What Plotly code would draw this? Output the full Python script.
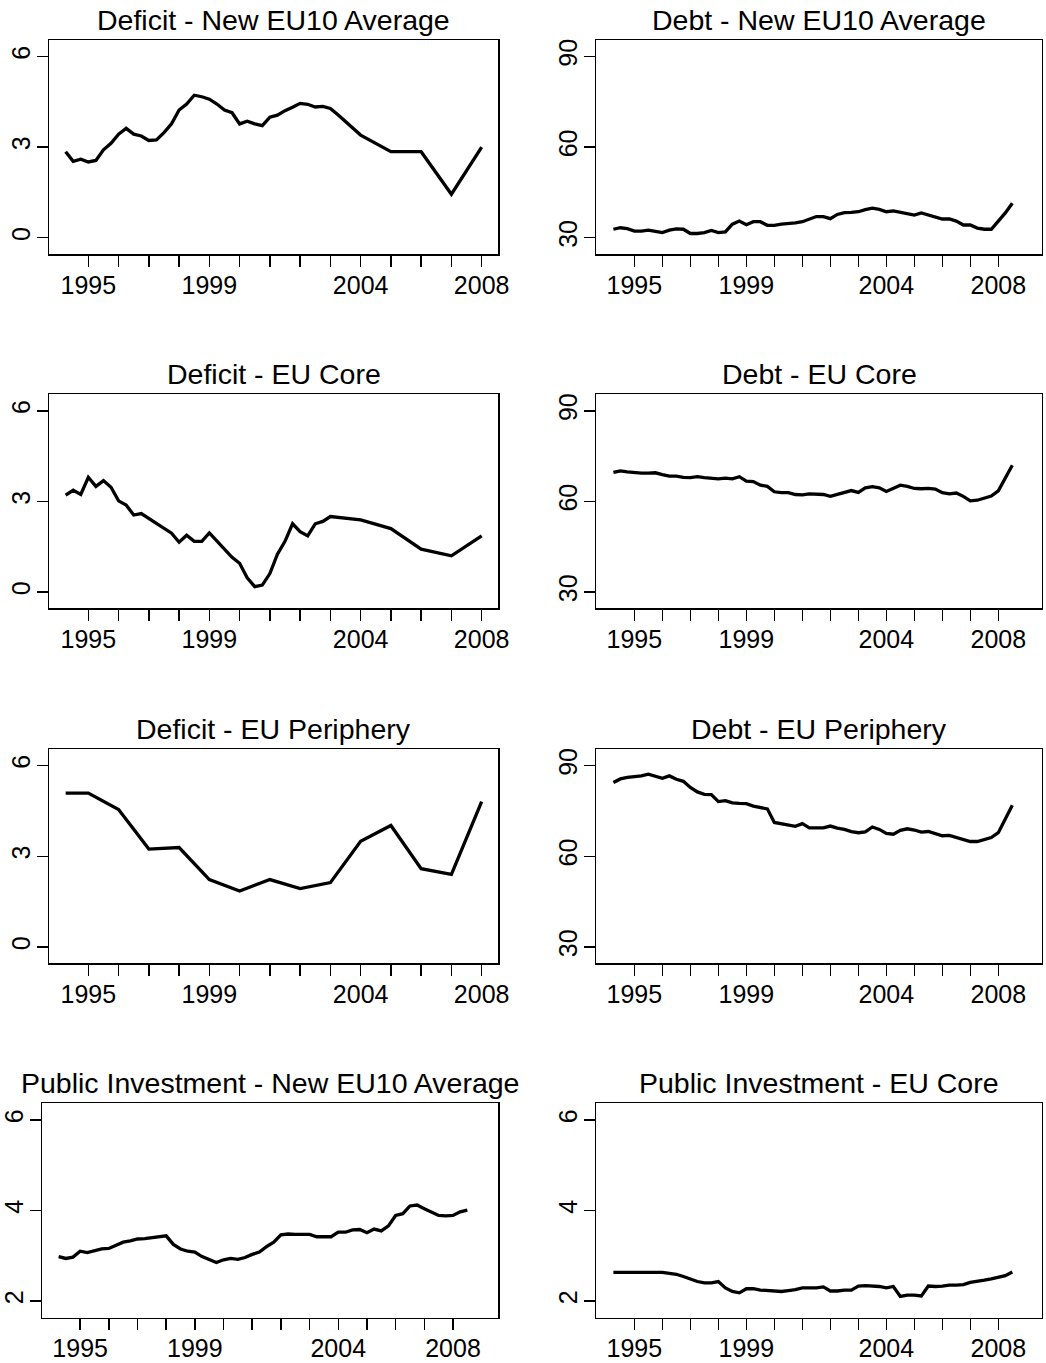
import plotly.graph_objects as go

W, H = 1046, 1363
FONT = "Liberation Sans"

# ---------------- data ----------------
# quarterly time index 1994Q2 .. 2008Q3 (as decimal years)
quarters = [1994.25 + 0.25 * i for i in range(58)]
quarters_to_2003 = quarters[:36]

deficit_eu10_x = quarters_to_2003 + [2003.25, 2003.5, 2003.75, 2004, 2005, 2006, 2007, 2008]
deficit_eu10_y = [2.85, 2.53, 2.60, 2.51, 2.56, 2.91, 3.13, 3.43, 3.62, 3.43,
                  3.37, 3.22, 3.24, 3.48, 3.77, 4.23, 4.43, 4.72, 4.67, 4.59,
                  4.43, 4.23, 4.14, 3.77, 3.86, 3.77, 3.71, 3.99, 4.06, 4.21,
                  4.32, 4.45, 4.42, 4.33, 4.35, 4.28,
                  4.07, 3.85, 3.62, 3.40, 2.85, 2.85, 1.44, 3.00]

deficit_core_x = quarters_to_2003 + [2004, 2005, 2006, 2007, 2008]
deficit_core_y = [3.21, 3.37, 3.23, 3.80, 3.50, 3.69, 3.47, 3.02, 2.88, 2.55,
                  2.60, 2.43, 2.27, 2.12, 1.95, 1.65, 1.88, 1.68, 1.68, 1.96,
                  1.68, 1.42, 1.15, 0.95, 0.47, 0.18, 0.23, 0.61, 1.25, 1.68,
                  2.26, 2.00, 1.86, 2.26, 2.34, 2.50,
                  2.39, 2.10, 1.42, 1.20, 1.86]

deficit_periph_x = [1994.25, 1995, 1996, 1997, 1998, 1999, 2000, 2001, 2002,
                    2003, 2004, 2005, 2006, 2007, 2008]
deficit_periph_y = [5.09, 5.09, 4.55, 3.24, 3.29, 2.23, 1.85, 2.23, 1.93,
                    2.13, 3.50, 4.02, 2.59, 2.40, 4.81]

debt_eu10_y = [32.8, 33.3, 33.0, 32.2, 32.2, 32.5, 32.1, 31.7, 32.5, 32.9,
               32.8, 31.4, 31.4, 31.7, 32.4, 31.7, 31.9, 34.5, 35.5, 34.3,
               35.3, 35.3, 34.1, 34.1, 34.5, 34.6, 34.9, 35.3, 36.1, 37.0,
               37.0, 36.3, 37.7, 38.3, 38.4, 38.6, 39.3, 39.8, 39.4, 38.6,
               38.9, 38.5, 38.0, 37.5, 38.2, 37.5, 36.9, 36.2, 36.2, 35.5,
               34.2, 34.2, 33.2, 32.8, 32.8, 35.3, 38.2, 41.4]

debt_core_y = [69.6, 70.1, 69.8, 69.5, 69.4, 69.4, 69.5, 68.9, 68.4, 68.4,
               68.0, 67.9, 68.2, 67.9, 67.7, 67.5, 67.7, 67.5, 68.2, 66.7,
               66.6, 65.4, 65.0, 63.2, 62.9, 62.9, 62.3, 62.2, 62.5, 62.3,
               62.3, 61.7, 62.3, 63.1, 63.6, 63.0, 64.5, 64.9, 64.5, 63.3,
               64.3, 65.4, 65.0, 64.3, 64.2, 64.3, 64.1, 62.9, 62.5, 62.8,
               61.7, 60.2, 60.4, 61.0, 61.8, 63.5, 67.5, 72.0]

debt_periph_y = [84.4, 85.6, 86.1, 86.4, 86.6, 87.2, 86.6, 85.8, 86.6, 85.5,
                 84.8, 82.8, 81.3, 80.5, 80.4, 78.1, 78.4, 77.7, 77.5, 77.4,
                 76.6, 76.1, 75.7, 71.2, 70.7, 70.3, 69.9, 70.8, 69.4, 69.4,
                 69.4, 70.0, 69.3, 68.9, 68.2, 67.8, 68.1, 69.7, 68.9, 67.6,
                 67.3, 68.6, 69.1, 68.7, 68.0, 68.2, 67.6, 66.8, 66.9, 66.2,
                 65.5, 64.9, 64.9, 65.5, 66.2, 67.8, 72.2, 76.9]

pubinv_eu10_y = [2.98, 2.94, 2.97, 3.10, 3.07, 3.11, 3.15, 3.16, 3.23, 3.30,
                 3.33, 3.37, 3.38, 3.40, 3.41, 3.44, 3.25, 3.15, 3.10, 3.08,
                 2.98, 2.91, 2.85, 2.91, 2.94, 2.92, 2.96, 3.03, 3.08, 3.20,
                 3.30, 3.46, 3.48, 3.47, 3.47, 3.47, 3.42, 3.42, 3.42, 3.52,
                 3.52, 3.57, 3.58, 3.51, 3.59, 3.55, 3.66, 3.89, 3.93, 4.10,
                 4.12, 4.04, 3.96, 3.89, 3.88, 3.89, 3.97, 4.01]

pubinv_core_y = [2.63, 2.63, 2.63, 2.63, 2.63, 2.63, 2.63, 2.63, 2.61, 2.59,
                 2.54, 2.48, 2.43, 2.40, 2.40, 2.43, 2.29, 2.21, 2.18, 2.27,
                 2.27, 2.24, 2.23, 2.22, 2.21, 2.23, 2.25, 2.29, 2.29, 2.29,
                 2.31, 2.22, 2.22, 2.24, 2.24, 2.33, 2.34, 2.33, 2.32, 2.29,
                 2.32, 2.10, 2.13, 2.13, 2.11, 2.33, 2.32, 2.33, 2.35, 2.35,
                 2.36, 2.41, 2.43, 2.46, 2.49, 2.52, 2.56, 2.64]

titles = ["Deficit - New EU10 Average", "Debt - New EU10 Average",
          "Deficit - EU Core", "Debt - EU Core",
          "Deficit - EU Periphery", "Debt - EU Periphery",
          "Public Investment - New EU10 Average", "Public Investment - EU Core"]

year_ticks = list(range(1995, 2009))
year_labels = ["1995", "", "", "", "1999", "", "", "", "", "2004", "", "", "", "2008"]
deficit_ticks = [0, 3, 6]
debt_ticks = [30, 60, 90]
pubinv_ticks = [2, 4, 6]

# ---------------- layout geometry (pixels) ----------------
rows_px = [(40, 254), (394.3, 608.3), (749, 963.3), (1103.3, 1317.7)]
left_px = [(49, 498.3), (49, 498.3), (49, 498.3), (42, 498.3)]
right_px = (596.3, 1041.7)

panels = [
    (deficit_eu10_x, deficit_eu10_y, deficit_ticks, [-0.54, 6.55], [1993.70, 2008.55]),
    (quarters, debt_eu10_y, debt_ticks, [24.6, 95.5], [1993.64, 2009.55]),
    (deficit_core_x, deficit_core_y, deficit_ticks, [-0.54, 6.55], [1993.70, 2008.55]),
    (quarters, debt_core_y, debt_ticks, [24.6, 95.5], [1993.64, 2009.55]),
    (deficit_periph_x, deficit_periph_y, deficit_ticks, [-0.54, 6.55], [1993.70, 2008.55]),
    (quarters, debt_periph_y, debt_ticks, [24.6, 95.5], [1993.64, 2009.55]),
    (quarters, pubinv_eu10_y, pubinv_ticks, [1.63, 6.37], [1993.67, 2009.58]),
    (quarters, pubinv_core_y, pubinv_ticks, [1.63, 6.37], [1993.64, 2009.55]),
]

fig = go.Figure()
layout = dict(width=W, height=H, autosize=False, margin=dict(l=0, r=0, t=0, b=0),
              paper_bgcolor="white", plot_bgcolor="white", showlegend=False)
annotations = []

for i, (xs, ys, yt, yr, xr) in enumerate(panels):
    r, c = divmod(i, 2)
    top, bot = rows_px[r]
    x0, x1 = left_px[r] if c == 0 else right_px
    n = i + 1
    xa = "xaxis" if n == 1 else f"xaxis{n}"
    ya = "yaxis" if n == 1 else f"yaxis{n}"
    common = dict(showline=True, linecolor="black", linewidth=1.5, mirror=True,
                  ticks="outside", ticklen=11, tickwidth=1.5, tickcolor="black",
                  showgrid=False, zeroline=False, automargin=False,
                  ticklabelstandoff=-3,
                  tickfont=dict(family=FONT, size=25, color="black"))
    layout[xa] = dict(domain=[x0 / W, x1 / W], range=xr, anchor=f"y{n}",
                      tickmode="array", tickvals=year_ticks, ticktext=year_labels,
                      **common)
    layout[ya] = dict(domain=[1 - bot / H, 1 - top / H], range=yr, anchor=f"x{n}",
                      tickmode="array", tickvals=yt, ticktext=[str(v) for v in yt],
                      tickangle=-90, **common)
    fig.add_trace(go.Scatter(x=xs, y=ys, mode="lines", xaxis=f"x{n}", yaxis=f"y{n}",
                             line=dict(color="black", width=3.3),
                             hoverinfo="skip"))
    annotations.append(dict(text=titles[i], x=(x0 + x1) / 2 / W, y=1 - (top - 20) / H,
                            xref="paper", yref="paper", xanchor="center", yanchor="middle",
                            showarrow=False,
                            font=dict(family=FONT, size=28.5, color="black")))

layout["annotations"] = annotations
fig.update_layout(**layout)
fig.write_html(
    "out.html",
    config={"responsive": False, "displayModeBar": False, "staticPlot": True},
    post_script=("document.documentElement.style.margin='0px';"
                 "document.body.style.margin='0px';"),
)
